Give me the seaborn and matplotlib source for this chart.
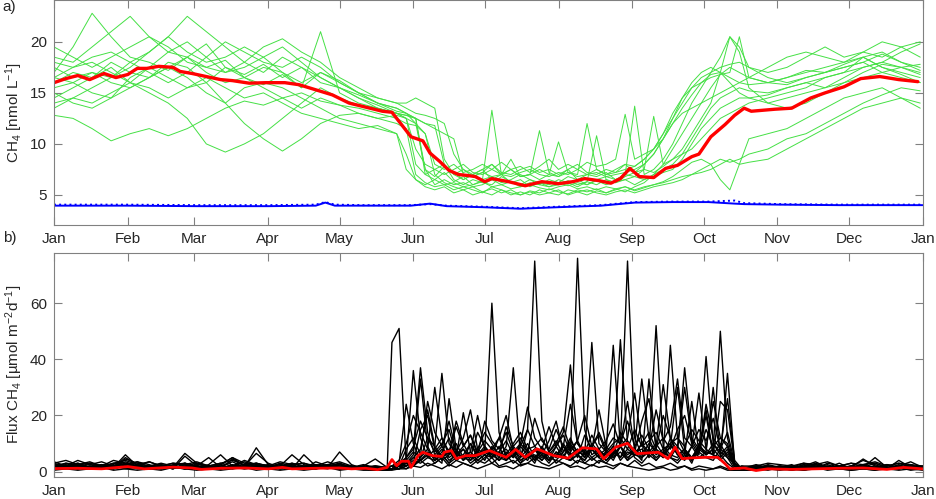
import numpy as np
import pandas as pd
import seaborn as sns
from matplotlib import pyplot as plt

# ---- day grids (day of year) ----
ch4_days = np.r_[np.arange(0, 145, 8), np.arange(148, 293, 4), np.arange(300, 365, 8)]
flux_days = np.r_[np.arange(0, 141, 5), np.arange(142, 290, 3), np.arange(295, 366, 5)]

month_ticks = [0, 31, 59, 90, 120, 151, 181, 212, 243, 273, 304, 334, 365]
month_labels = ['Jan', 'Feb', 'Mar', 'Apr', 'May', 'Jun', 'Jul', 'Aug', 'Sep', 'Oct', 'Nov', 'Dec', 'Jan']

# ---- a) surface CH4 of the single runs [nmol/L] ----
run01 = [17.0, 19.5, 22.8, 20.5, 18.5, 18.0, 17.2, 18.5, 19.8, 17.5, 16.8, 17.8, 16.5, 17.5, 16.0, 15.5, 14.5, 13.8, 13.0,
         12.5, 8.0, 7.0, 6.5, 7.2, 6.3, 6.8, 6.0, 6.4, 13.3, 7.0, 6.2, 6.5, 5.8, 6.2, 6.0, 6.5, 6.2, 5.8, 6.3, 6.0, 6.5,
         6.2, 6.8, 7.2, 8.0, 9.0, 10.5, 12.0, 13.5, 14.8, 16.0, 16.8, 17.0, 16.5, 16.0, 15.8,
         16.0, 16.5, 17.2, 17.0, 17.8, 18.5, 17.5, 16.8, 16.0]
run02 = [18.5, 18.0, 19.5, 21.0, 22.5, 20.5, 19.0, 18.5, 17.5, 18.2, 16.5, 15.8, 16.8, 15.5, 17.0, 16.2, 15.0, 14.0, 13.2,
         13.0, 12.5, 7.5, 6.8, 7.8, 7.2, 6.5, 7.0, 7.5, 6.5, 7.0, 8.5, 6.8, 7.0, 11.3, 7.2, 6.8, 7.5, 6.5, 7.0, 6.8, 7.2,
         6.5, 7.0, 6.8, 7.5, 7.2, 7.8, 8.5, 9.5, 11.0, 12.5, 14.0, 17.0, 20.5, 19.0, 15.5,
         14.0, 13.5, 14.0, 15.0, 16.0, 17.0, 17.8, 17.5, 17.0]
run03 = [12.8, 12.5, 11.5, 10.3, 11.0, 11.5, 10.8, 11.5, 12.5, 13.5, 14.2, 13.8, 14.5, 15.0, 14.2, 13.8, 13.5, 13.0, 12.5,
         12.0, 11.8, 11.0, 7.0, 6.2, 5.8, 5.5, 5.8, 5.3, 5.6, 5.2, 5.5, 5.0, 5.4, 5.2, 5.6, 5.3, 5.1, 5.5, 5.3, 5.6, 5.2,
         5.5, 5.8, 5.4, 5.7, 6.0, 6.2, 6.5, 6.8, 7.0, 7.5, 8.0, 8.5, 8.2, 8.5, 9.0,
         9.5, 10.5, 11.0, 12.0, 13.0, 14.0, 14.8, 15.5, 15.2]
run04 = [14.5, 15.5, 16.5, 17.5, 16.0, 15.0, 14.0, 12.5, 10.0, 9.2, 10.0, 11.0, 12.5, 14.0, 15.5, 14.5, 13.8, 13.5, 13.0,
         12.8, 12.5, 12.0, 11.8, 8.0, 6.5, 6.0, 6.5, 6.2, 6.0, 6.8, 6.3, 6.0, 6.5, 6.2, 5.8, 6.0, 6.4, 6.0, 6.3, 10.8, 6.5,
         6.2, 6.5, 6.8, 6.5, 7.0, 7.5, 8.0, 9.0, 10.5, 12.0, 13.5, 14.5, 15.0, 15.5, 15.2,
         15.0, 15.5, 16.0, 16.5, 17.0, 18.5, 19.0, 18.0, 17.2]
run05 = [16.0, 17.0, 16.5, 18.0, 17.0, 16.5, 18.0, 17.5, 16.0, 14.0, 12.0, 10.5, 9.3, 10.5, 12.0, 12.8, 13.0, 12.5, 12.0,
         11.5, 7.0, 6.2, 5.8, 6.0, 5.5, 5.8, 5.5, 5.2, 5.8, 5.5, 5.0, 5.3, 5.0, 5.5, 5.2, 5.0, 5.5, 5.3, 5.0, 5.4, 5.2,
         5.6, 5.3, 5.8, 6.2, 7.0, 8.0, 9.5, 11.0, 12.5, 14.0, 15.5, 16.8, 17.5, 17.0, 16.5,
         16.0, 15.8, 16.5, 17.0, 17.5, 18.0, 18.8, 18.0, 17.5]
run06 = [15.5, 16.0, 17.0, 16.5, 17.5, 19.0, 20.5, 22.5, 21.0, 19.5, 18.0, 17.0, 18.5, 17.5, 16.5, 15.5, 14.8, 14.0, 13.5,
         13.0, 12.5, 7.0, 7.5, 8.0, 7.0, 7.5, 6.8, 7.2, 8.0, 7.0, 7.5, 6.8, 7.0, 7.5, 7.0, 10.2, 7.2, 7.0, 12.0, 7.5, 7.0,
         7.5, 8.0, 7.2, 7.5, 12.7, 8.0, 8.5, 9.0, 9.5, 10.5, 11.5, 12.5, 13.0, 13.5, 14.0,
         14.5, 15.0, 15.5, 16.5, 17.0, 17.5, 18.0, 19.0, 19.8]
run07 = [19.5, 18.5, 17.5, 18.5, 19.5, 20.5, 19.5, 18.0, 17.5, 17.0, 18.0, 19.5, 20.3, 19.0, 18.0, 16.5, 15.5, 14.5, 14.0,
         14.0, 14.5, 14.0, 13.5, 8.5, 7.0, 6.5, 7.0, 6.5, 6.8, 6.2, 6.5, 7.0, 6.5, 6.0, 6.5, 6.2, 6.8, 6.5, 6.0, 6.5, 6.8,
         6.5, 7.0, 13.7, 7.0, 7.5, 8.5, 10.0, 12.0, 14.0, 15.5, 17.0, 18.5, 20.5, 19.5, 17.5,
         16.5, 16.0, 16.5, 17.0, 17.5, 18.0, 17.0, 16.5, 16.0]
run08 = [16.5, 16.0, 15.0, 14.5, 15.5, 16.5, 17.5, 16.5, 15.0, 14.0, 15.5, 16.0, 15.5, 14.5, 13.5, 12.5, 12.0, 11.5, 11.0,
         7.5, 6.5, 6.0, 6.5, 6.0, 6.2, 5.8, 6.0, 6.3, 5.8, 6.0, 5.6, 5.8, 6.0, 5.7, 5.5, 5.8, 6.0, 5.6, 5.8, 5.5, 5.8,
         5.6, 5.8, 5.5, 5.8, 6.0, 6.3, 6.8, 7.5, 8.2, 8.5, 8.0, 6.5, 5.5, 8.0, 10.5,
         11.0, 11.5, 12.5, 13.5, 14.5, 15.0, 15.5, 14.5, 13.5]
run09 = [14.0, 14.5, 15.5, 16.5, 18.0, 19.0, 20.5, 19.0, 18.0, 18.5, 19.5, 18.5, 17.0, 16.0, 17.0, 16.0, 15.0, 14.5, 14.0,
         13.5, 13.0, 12.8, 12.5, 12.0, 9.0, 7.5, 7.0, 7.5, 8.0, 7.2, 7.0, 7.5, 7.8, 7.2, 7.5, 7.0, 7.5, 8.0, 7.2, 7.0, 7.5,
         7.2, 8.0, 7.8, 8.5, 9.5, 11.0, 12.5, 14.0, 15.5, 16.5, 17.0, 17.5, 17.8, 18.0, 17.5,
         17.0, 17.5, 18.5, 19.5, 18.5, 19.0, 20.0, 19.5, 18.5]
run10 = [15.0, 14.0, 13.5, 14.5, 16.5, 17.5, 16.5, 15.5, 16.0, 17.5, 16.5, 15.5, 14.5, 13.5, 14.5, 13.8, 13.0, 12.5, 12.8,
         12.5, 12.0, 7.5, 6.0, 6.5, 6.0, 6.2, 5.8, 6.0, 6.5, 6.0, 6.3, 5.8, 6.2, 6.0, 5.8, 6.2, 5.9, 6.2, 6.0, 6.4, 6.0,
         6.3, 6.5, 6.0, 6.5, 6.8, 7.2, 7.5, 8.5, 10.0, 11.5, 12.5, 13.5, 14.0, 14.5, 14.5,
         14.8, 15.5, 16.0, 15.5, 16.5, 17.5, 18.0, 17.5, 16.8]
run11 = [18.0, 17.5, 18.5, 19.0, 18.0, 17.0, 16.0, 17.0, 18.5, 20.0, 19.0, 18.0, 17.5, 18.5, 17.5, 16.0, 15.0, 14.0, 13.5,
         13.0, 12.0, 11.0, 8.0, 7.5, 8.0, 7.2, 7.5, 8.0, 7.5, 8.2, 7.5, 7.8, 7.2, 7.8, 8.5, 7.5, 8.0, 7.5, 8.2, 7.8, 8.0,
         8.5, 12.9, 8.5, 9.0, 9.5, 10.5, 12.0, 13.0, 13.5, 14.0, 14.5, 15.0, 15.5, 16.0, 16.5,
         17.5, 18.5, 19.0, 18.5, 18.0, 18.5, 17.5, 17.0, 16.5]
run12 = [13.5, 14.5, 14.0, 15.0, 16.0, 15.5, 14.5, 15.5, 16.5, 15.5, 14.5, 15.0, 14.0, 13.0, 12.5, 12.0, 11.5, 11.8, 11.0,
         9.0, 6.5, 5.8, 5.5, 5.8, 5.2, 5.5, 5.0, 5.3, 5.0, 5.5, 5.2, 5.0, 5.3, 5.0, 5.2, 5.5, 5.0, 5.3, 5.5, 5.2, 5.0,
         5.3, 5.5, 5.2, 5.5, 5.8, 6.0, 6.2, 6.5, 7.0, 7.2, 7.5, 8.0, 8.5, 8.0, 8.2,
         8.5, 9.5, 10.5, 11.5, 12.5, 13.5, 14.0, 14.5, 14.0]
run13 = [16.5, 17.5, 18.0, 17.0, 16.0, 17.5, 19.0, 20.0, 18.5, 17.0, 17.5, 18.5, 19.5, 18.0, 16.5, 15.5, 14.5, 13.5, 13.0,
         12.5, 9.5, 8.0, 7.5, 7.0, 7.5, 8.0, 7.2, 7.0, 7.5, 7.0, 6.8, 7.2, 7.5, 7.0, 6.8, 7.2, 7.0, 7.5, 7.0, 7.2, 6.8,
         7.0, 7.2, 7.5, 8.0, 9.0, 10.5, 12.5, 14.5, 16.0, 17.0, 17.5, 17.0, 16.0, 15.0, 14.5,
         14.0, 14.5, 15.0, 15.5, 16.0, 16.5, 17.0, 17.5, 17.8]
run14 = [17.5, 16.5, 17.0, 16.0, 15.5, 16.5, 17.5, 18.5, 17.0, 16.0, 16.5, 17.5, 17.0, 15.5, 21.0, 15.0, 14.0, 13.5, 13.0,
         12.8, 12.5, 12.0, 11.5, 11.0, 10.5, 7.0, 6.8, 7.2, 6.8, 7.0, 7.5, 6.8, 7.0, 6.5, 7.0, 6.8, 7.2, 6.8, 7.0, 7.5, 7.0,
         7.2, 7.5, 7.8, 8.5, 9.5, 11.0, 13.0, 14.5, 15.5, 16.0, 16.5, 16.8, 17.0, 20.5, 16.5,
         16.0, 16.5, 17.0, 17.5, 18.0, 19.0, 18.5, 19.5, 20.0]

# ensemble mean CH4 (red)
mean_days = [0, 5, 10, 15, 21, 26, 31, 35, 39, 44, 50, 53, 58, 64, 70, 75, 82, 89, 97, 103, 110, 117, 124, 131,
             138, 142, 146, 150, 155, 158, 162, 166, 170, 174, 177, 181, 184, 191, 198, 205, 212, 218, 223, 229,
             234, 238, 242, 246, 252, 257, 262, 268, 271, 276, 282, 286, 290, 293, 303, 310, 318, 324, 332, 339,
             347, 355, 363]
mean_ch4 = [16.0, 16.4, 16.7, 16.3, 16.9, 16.5, 16.8, 17.4, 17.4, 17.6, 17.5, 17.1, 16.9, 16.6, 16.3, 16.2, 15.95,
            16.0, 16.0, 15.8, 15.3, 14.8, 14.0, 13.6, 13.2, 13.1, 11.9, 10.7, 10.3, 9.1, 8.3, 7.4, 7.0, 6.9, 6.8,
            6.3, 6.6, 6.3, 5.9, 6.3, 6.1, 6.3, 6.6, 6.4, 6.15, 6.6, 7.6, 6.8, 6.7, 7.6, 7.9, 8.75, 9.0, 10.7, 11.9,
            12.8, 13.5, 13.2, 13.4, 13.5, 14.5, 15.0, 15.6, 16.4, 16.6, 16.3, 16.1]

# atmospheric equilibrium (blue, solid and dotted)
eq_days = [0, 30, 60, 90, 110, 114, 118, 130, 150, 158, 165, 180, 196, 212, 230, 244, 260, 275, 286, 290, 305, 330, 365]
eq_solid = [3.95, 3.95, 3.9, 3.9, 3.95, 4.25, 3.95, 3.95, 3.95, 4.15, 3.9, 3.8, 3.65, 3.8, 3.95, 4.25, 4.3, 4.3,
            4.15, 4.1, 4.05, 4.0, 4.0]
eq_dotted = [4.05, 4.05, 4.0, 4.0, 4.05, 4.3, 4.05, 4.0, 4.0, 4.1, 3.95, 3.85, 3.7, 3.85, 4.0, 4.3, 4.35, 4.35,
             4.45, 4.2, 4.1, 4.05, 4.05]

# ---- b) CH4 flux of the single runs [umol m-2 d-1] ----
flux01 = [1.5, 3.0, 2.0, 1.0, 2.5, 1.5, 6.0, 2.0, 1.5, 1.0, 2.5, 3.0, 1.5, 2.0, 1.0, 4.5, 2.0, 6.5, 3.0, 1.5, 2.0, 1.0, 3.5, 2.0, 1.5, 1.0, 2.0, 1.5, 1.0,
          46, 51, 3, 2, 5, 8, 4, 6, 3, 7, 5, 4, 8, 6, 5, 9, 4, 6, 3, 7, 5, 8, 4, 6, 9, 5, 3, 7, 4, 6, 8, 5, 7, 4, 9, 33, 12, 6, 8, 5, 4, 7, 3, 10, 6, 8, 50, 12, 2, 1,
          1.0, 2.5, 1.5, 0.5, 1.0, 2.0, 1.5, 3.0, 1.0, 2.0, 1.5, 2.5, 1.0, 2.0, 1.5]
flux02 = [2.5, 1.5, 1.0, 2.0, 1.5, 3.0, 2.5, 1.0, 1.5, 2.0, 1.0, 5.5, 2.0, 1.0, 1.5, 2.0, 1.5, 2.5, 1.0, 2.0, 6.0, 2.5, 1.5, 2.0, 3.0, 1.0, 1.5, 2.0, 1.5,
          2, 3, 24, 10, 4, 6, 3, 5, 8, 4, 6, 3, 5, 7, 60, 14, 5, 8, 4, 6, 3, 9, 5, 4, 7, 12, 6, 4, 8, 5, 3, 6, 9, 5, 7, 4, 33, 8, 5, 12, 6, 4, 9, 5, 7, 30, 6, 3, 1, 2,
          2.0, 1.0, 1.5, 2.5, 0.5, 1.5, 1.0, 2.0, 3.0, 1.5, 1.0, 2.5, 1.5, 1.0, 2.0]
flux03 = [3.5, 2.0, 4.0, 2.5, 1.5, 2.0, 3.5, 2.0, 1.0, 2.5, 1.5, 2.0, 3.0, 1.5, 2.5, 5.0, 3.0, 2.0, 1.5, 2.5, 1.0, 6.0, 2.0, 1.5, 7.0, 2.5, 1.0, 1.5, 1.0,
          1, 2, 4, 36, 12, 5, 8, 4, 6, 10, 5, 7, 4, 6, 8, 5, 9, 37, 6, 4, 8, 5, 7, 11, 6, 4, 8, 5, 9, 6, 4, 7, 5, 8, 6, 10, 7, 52, 9, 6, 5, 8, 4, 7, 20, 6, 5, 8, 2, 1,
          1.5, 2.0, 1.0, 1.5, 3.0, 2.0, 1.0, 1.5, 2.0, 4.0, 2.5, 1.0, 2.0, 3.5, 1.5]
flux04 = [1.0, 1.5, 2.5, 1.5, 1.0, 1.5, 2.0, 3.5, 2.5, 1.0, 1.5, 6.5, 3.0, 2.0, 1.0, 1.5, 2.0, 3.0, 1.5, 1.0, 2.0, 1.5, 1.0, 2.5, 1.5, 2.0, 1.0, 0.5, 1.0,
          1, 2, 5, 8, 37, 14, 6, 9, 5, 7, 4, 10, 6, 8, 5, 7, 11, 6, 9, 15, 75, 18, 7, 5, 9, 6, 8, 5, 10, 7, 6, 9, 5, 11, 7, 8, 6, 9, 31, 12, 7, 5, 9, 28, 8, 6, 10, 5, 1, 2,
          0.5, 1.0, 2.0, 1.5, 1.0, 2.5, 1.5, 1.0, 2.0, 1.5, 5.0, 1.5, 1.0, 2.0, 1.0]
flux05 = [2.0, 2.5, 1.5, 3.0, 2.0, 1.0, 4.5, 3.0, 2.0, 1.5, 2.0, 1.0, 1.5, 2.5, 6.0, 2.0, 1.5, 8.5, 2.5, 1.5, 1.0, 2.0, 2.5, 1.5, 3.0, 1.5, 2.0, 4.5, 1.5,
          2, 1, 3, 6, 33, 9, 4, 7, 12, 5, 8, 4, 6, 9, 5, 7, 4, 8, 6, 10, 5, 7, 4, 9, 14, 38, 10, 6, 8, 5, 7, 4, 9, 6, 8, 5, 7, 10, 6, 45, 12, 7, 5, 9, 6, 8, 5, 35, 3, 1,
          2.5, 1.5, 1.0, 2.0, 1.5, 1.0, 3.0, 2.0, 1.5, 4.5, 2.0, 1.0, 1.5, 2.5, 1.0]
flux06 = [1.5, 1.0, 2.0, 1.5, 2.5, 1.5, 5.0, 2.5, 1.5, 2.0, 1.0, 2.5, 1.5, 1.0, 2.0, 3.5, 1.5, 2.0, 2.5, 1.0, 1.5, 2.0, 1.0, 2.0, 2.5, 1.0, 1.5, 1.0, 0.5,
          1, 3, 2, 5, 8, 22, 9, 5, 7, 4, 6, 10, 5, 8, 6, 4, 7, 5, 9, 6, 8, 4, 7, 5, 10, 6, 76, 15, 6, 8, 5, 9, 4, 7, 6, 10, 5, 8, 6, 9, 30, 8, 5, 7, 41, 10, 6, 9, 2, 1,
          1.0, 2.0, 1.5, 1.0, 2.5, 1.5, 2.0, 1.0, 1.5, 2.0, 1.0, 2.5, 1.5, 1.0, 1.5]
flux07 = [2.5, 2.0, 3.0, 1.5, 2.0, 2.5, 1.5, 2.0, 3.5, 2.0, 1.5, 2.0, 1.0, 1.5, 2.5, 5.0, 2.0, 1.5, 1.0, 2.0, 3.0, 1.5, 2.5, 2.0, 1.5, 1.0, 2.0, 1.0, 1.5,
          2, 1, 4, 7, 5, 12, 9, 35, 10, 6, 8, 5, 7, 4, 9, 6, 8, 5, 10, 7, 4, 8, 6, 9, 5, 11, 7, 6, 46, 10, 7, 5, 9, 25, 8, 6, 10, 7, 5, 9, 7, 37, 12, 8, 6, 10, 7, 5, 3, 1,
          1.5, 1.0, 2.0, 1.5, 1.0, 1.5, 2.5, 1.0, 2.0, 1.5, 3.0, 1.5, 1.0, 2.0, 1.5]
flux08 = [1.0, 2.0, 1.5, 1.0, 1.5, 2.0, 2.5, 1.5, 1.0, 1.5, 2.0, 3.0, 1.5, 2.0, 1.5, 2.0, 1.0, 1.5, 2.0, 2.5, 1.5, 1.0, 2.0, 1.5, 1.0, 2.0, 1.5, 1.0, 1.0,
          1, 2, 3, 2, 4, 6, 5, 3, 26, 8, 4, 6, 3, 5, 7, 4, 6, 3, 5, 8, 4, 6, 3, 7, 5, 4, 6, 8, 5, 3, 7, 45, 9, 4, 6, 5, 8, 4, 7, 5, 9, 6, 25, 7, 5, 4, 8, 6, 2, 1,
          1.0, 0.5, 1.5, 1.0, 2.0, 1.0, 1.5, 2.0, 1.0, 1.5, 2.0, 1.0, 4.0, 1.5, 1.0]
flux09 = [3.0, 1.5, 2.0, 2.5, 3.5, 2.0, 1.5, 2.5, 1.5, 1.0, 2.0, 1.5, 2.5, 2.0, 1.0, 2.5, 1.5, 2.0, 1.5, 3.0, 2.0, 1.5, 1.0, 2.0, 1.0, 1.5, 2.5, 1.5, 1.0,
          1, 1, 2, 4, 3, 5, 4, 6, 3, 5, 21, 7, 4, 6, 3, 5, 4, 7, 3, 5, 6, 4, 7, 3, 5, 4, 6, 3, 5, 7, 4, 6, 47, 10, 5, 3, 6, 4, 7, 5, 3, 6, 4, 8, 22, 6, 4, 7, 2, 1,
          1.5, 2.0, 1.0, 1.5, 1.0, 2.5, 1.0, 1.5, 1.0, 2.0, 1.5, 1.0, 2.5, 1.0, 2.0]
flux10 = [2.0, 3.0, 2.5, 1.5, 1.0, 2.0, 3.0, 1.5, 2.0, 3.0, 2.0, 1.5, 2.0, 5.0, 1.5, 2.0, 3.5, 2.0, 1.0, 1.5, 2.5, 3.0, 1.5, 1.0, 2.5, 2.0, 1.0, 1.5, 1.0,
          1, 2, 3, 5, 4, 7, 5, 8, 4, 6, 5, 7, 20, 8, 5, 7, 4, 9, 6, 5, 8, 6, 4, 7, 5, 9, 6, 4, 8, 5, 7, 6, 9, 75, 12, 6, 8, 5, 7, 10, 6, 8, 5, 9, 7, 6, 25, 22, 3, 1,
          2.0, 1.5, 1.0, 2.0, 1.5, 3.0, 1.5, 1.0, 2.0, 1.5, 1.0, 2.0, 3.0, 1.5, 1.0]
flux11 = [1.0, 2.0, 3.0, 1.5, 2.0, 1.0, 2.5, 3.5, 1.5, 2.0, 1.0, 3.0, 2.0, 1.5, 2.5, 1.0, 2.0, 3.0, 2.0, 1.5, 2.5, 1.0, 2.0, 3.5, 2.0, 1.5, 1.0, 2.0, 1.0,
          1, 2, 1, 3, 15, 20, 8, 12, 6, 18, 10, 5, 14, 9, 6, 12, 20, 8, 5, 15, 9, 6, 11, 18, 7, 10, 5, 13, 8, 22, 9, 6, 14, 10, 7, 18, 26, 9, 12, 8, 15, 20, 10, 6, 24, 12, 8, 14, 3, 1,
          1.0, 1.5, 2.0, 1.0, 2.5, 1.5, 1.0, 2.0, 1.5, 2.5, 1.0, 1.5, 2.0, 1.0, 1.5]
flux12 = [0.5, 1.0, 0.5, 1.0, 1.5, 0.5, 1.0, 0.5, 1.0, 0.5, 1.5, 1.0, 0.5, 1.0, 0.5, 1.0, 1.5, 0.5, 1.0, 0.5, 1.0, 0.5, 1.0, 1.5, 0.5, 1.0, 0.5, 0.5, 0.5,
          0.5, 1, 1, 2, 1.5, 3, 2, 1, 2.5, 1.5, 3, 2, 1, 2, 3, 1.5, 2, 1, 2.5, 3, 2, 1.5, 1, 2, 3, 1.5, 2, 1, 2.5, 1.5, 2, 1, 3, 2, 1.5, 1, 0.5, 1, 1.5, 0.5, 1, 2, 0.5, 1, 0.5, 1, 1.5, 0.5, 0.5, 0.5,
          0.5, 1.0, 0.5, 1.0, 0.5, 1.5, 0.5, 1.0, 0.5, 1.0, 0.5, 1.0, 1.5, 0.5, 1.0]
flux13 = [3.0, 4.0, 2.5, 3.5, 2.0, 3.0, 4.0, 2.5, 3.5, 2.0, 3.0, 2.5, 3.5, 2.0, 3.0, 4.0, 2.5, 3.0, 2.0, 3.5, 2.5, 3.0, 2.0, 2.5, 3.5, 2.0, 1.5, 2.0, 1.5,
          1, 2, 8, 12, 6, 25, 14, 9, 18, 7, 12, 22, 8, 14, 10, 6, 16, 9, 12, 7, 19, 11, 8, 15, 9, 24, 10, 7, 13, 8, 11, 17, 9, 12, 28, 10, 14, 8, 20, 12, 9, 30, 11, 7, 15, 9, 12, 10, 2, 1,
          2.0, 3.0, 2.5, 2.0, 3.0, 2.5, 3.5, 2.0, 3.0, 2.5, 3.5, 2.0, 3.0, 2.5, 2.0]
flux14 = [1.5, 2.0, 1.0, 1.5, 2.5, 2.0, 1.0, 1.5, 2.0, 2.5, 1.5, 1.0, 2.0, 1.5, 1.0, 2.0, 2.5, 1.5, 1.0, 2.0, 1.5, 1.0, 1.5, 2.0, 1.0, 1.5, 1.0, 1.0, 0.5,
          1, 1, 2, 3, 4, 2, 3, 5, 2, 4, 3, 2, 4, 3, 5, 2, 3, 4, 2, 3, 5, 3, 2, 4, 3, 2, 4, 3, 2, 4, 3, 2, 3, 2, 4, 2, 3, 1.5, 2, 3, 1.5, 2, 1, 2, 1.5, 1, 2, 1, 0.5, 0.5,
          0.5, 1.0, 1.5, 1.0, 0.5, 1.0, 1.5, 1.0, 0.5, 1.0, 1.5, 1.0, 0.5, 1.0, 0.5]
flux15 = [2.0, 1.5, 2.5, 3.0, 2.0, 4.0, 3.0, 2.0, 1.5, 2.0, 3.0, 2.5, 1.5, 2.0, 3.0, 2.0, 4.0, 2.5, 2.0, 1.5, 3.0, 2.0, 1.5, 2.5, 2.0, 1.5, 2.0, 1.0, 1.5,
          2, 4, 10, 20, 14, 8, 30, 12, 7, 16, 9, 13, 6, 18, 11, 8, 14, 7, 10, 23, 12, 8, 16, 9, 13, 7, 11, 20, 9, 14, 8, 12, 10, 18, 9, 13, 8, 22, 11, 16, 33, 12, 9, 15, 11, 19, 8, 26, 4, 1,
          1.5, 2.0, 1.0, 1.5, 2.0, 3.5, 1.5, 2.0, 1.0, 2.5, 3.0, 1.5, 2.0, 1.0, 1.5]
flux16 = [1.0, 1.5, 1.0, 2.0, 1.5, 1.0, 2.0, 1.5, 1.0, 1.5, 2.0, 1.0, 1.5, 1.0, 2.0, 1.5, 1.0, 1.5, 2.0, 1.0, 1.5, 1.0, 2.0, 1.5, 1.0, 1.5, 1.0, 0.5, 1.0,
          1, 3, 5, 9, 18, 12, 7, 10, 15, 6, 9, 13, 7, 11, 8, 12, 6, 10, 14, 8, 9, 12, 7, 10, 16, 8, 11, 6, 9, 13, 7, 10, 12, 8, 15, 9, 11, 14, 8, 10, 12, 9, 15, 11, 8, 25, 12, 9, 2, 1,
          1.0, 1.5, 1.0, 0.5, 1.5, 1.0, 2.0, 1.0, 1.5, 1.0, 0.5, 1.5, 1.0, 2.0, 1.0]

# ensemble mean flux (red)
mflux_days = [0, 10, 20, 31, 38, 50, 58, 62, 70, 80, 90, 96, 100, 110, 120, 125, 131, 136, 140, 142, 144, 146,
              149, 150, 153, 155, 159, 163, 164, 167, 169, 173, 177, 183, 190, 194, 198, 203, 210, 216, 222, 228,
              231, 236, 241, 245, 254, 258, 261, 264, 268, 274, 279, 282, 284, 290, 295, 300, 310, 320, 330, 340,
              350, 357, 365]
mflux = [1.1, 1.2, 1.0, 1.8, 1.0, 1.6, 1.3, 0.8, 1.2, 1.3, 1.0, 1.5, 1.0, 1.2, 1.3, 1.0, 1.2, 0.7, 1.5, 4.3, 2.1,
         3.7, 3.7, 1.5, 5.7, 6.9, 5.7, 5.4, 6.9, 7.5, 4.6, 5.7, 5.7, 7.5, 5.1, 7.9, 5.1, 8.1, 5.7, 4.8, 8.5, 8.1,
         4.6, 8.7, 10.1, 6.4, 6.9, 4.6, 8.7, 4.6, 4.9, 5.1, 5.1, 2.8, 1.0, 1.3, 0.4, 1.0, 0.8, 1.0, 1.2, 1.3, 0.8,
         1.5, 1.0]

ch4_runs = [run01, run02, run03, run04, run05, run06, run07, run08, run09, run10, run11, run12, run13, run14]
flux_runs = [flux01, flux02, flux03, flux04, flux05, flux06, flux07, flux08,
             flux09, flux10, flux11, flux12, flux13, flux14, flux15, flux16]

ch4_df = pd.concat([pd.DataFrame({'day': ch4_days, 'ch4': r, 'run': i}) for i, r in enumerate(ch4_runs)])
flux_df = pd.concat([pd.DataFrame({'day': flux_days, 'flux': r, 'run': i}) for i, r in enumerate(flux_runs)])

sns.set_style('ticks')
plt.rcParams['font.family'] = ['Liberation Sans', 'DejaVu Sans']
plt.rcParams['mathtext.fontset'] = 'custom'
plt.rcParams['mathtext.rm'] = 'Liberation Sans'
plt.rcParams['mathtext.it'] = 'Liberation Sans:italic'

fig = plt.figure(figsize=(9.36, 4.99), dpi=100)
ax1 = fig.add_axes([0.0577, 0.549, 0.928, 0.451])
ax2 = fig.add_axes([0.0577, 0.0447, 0.928, 0.449])

# a) concentrations
sns.lineplot(data=ch4_df, x='day', y='ch4', units='run', estimator=None, color='#45e045', lw=0.7, ax=ax1)
sns.lineplot(x=mean_days, y=mean_ch4, color='#ff0000', lw=2.4, ax=ax1)
sns.lineplot(x=eq_days, y=eq_solid, color='#0000ff', lw=1.4, ax=ax1)
sns.lineplot(x=eq_days, y=eq_dotted, color='#0000ff', lw=1.4, ls=':', ax=ax1)
ax1.set_ylim(2.05, 24.1)
ax1.set_yticks([5, 10, 15, 20])
ax1.set_ylabel('CH$_4$ [nmol L$^{-1}$]', fontsize=11, labelpad=4)

# b) fluxes
sns.lineplot(data=flux_df, x='day', y='flux', units='run', estimator=None, color='black', lw=1.0, ax=ax2)
sns.lineplot(x=mflux_days, y=mflux, color='#ff0000', lw=2.0, ax=ax2)
ax2.set_ylim(-1.8, 78)
ax2.set_yticks([0, 20, 40, 60])
ax2.set_ylabel('Flux CH$_4$ [µmol m$^{-2}$d$^{-1}$]', fontsize=11, labelpad=4)

for ax in (ax1, ax2):
    ax.set_xlim(0, 365)
    ax.set_xticks(month_ticks)
    ax.set_xticklabels(month_labels)
    ax.set_xlabel('')
    ax.tick_params(direction='in', top=True, right=True, length=6, width=0.8,
                   color='#808080', labelsize=11, pad=5)
    for s in ax.spines.values():
        s.set_color('#808080')
        s.set_linewidth(0.8)
        s.set_visible(True)

fig.text(0.003, 0.985, 'a)', fontsize=11, va='center', ha='left')
fig.text(0.003, 0.523, 'b)', fontsize=11, va='center', ha='left')

fig.savefig('out.png', dpi=100)
